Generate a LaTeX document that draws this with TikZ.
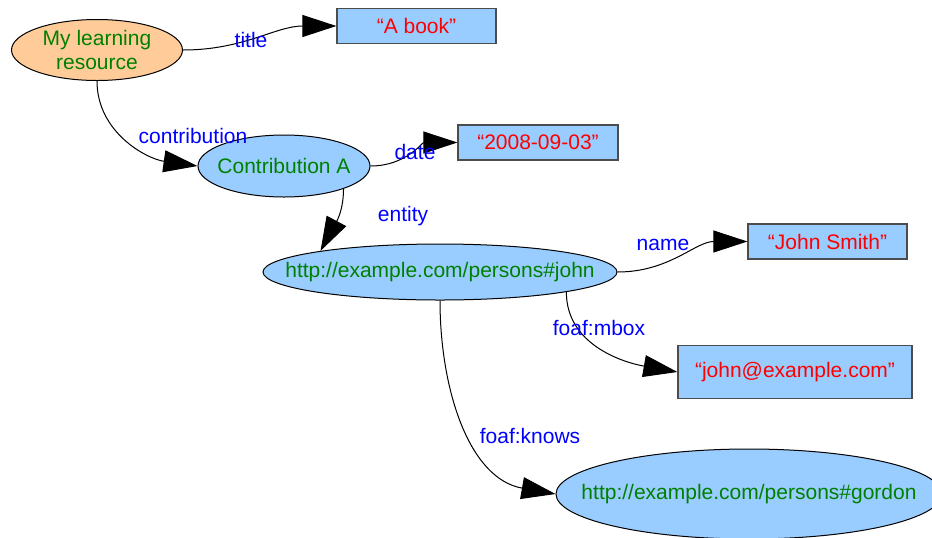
\documentclass[tikz,border=0pt]{standalone}
\usepackage{fontspec}
\setmainfont{Liberation Sans}
\usetikzlibrary{shapes.geometric,arrows.meta}
\definecolor{skyfill}{HTML}{99CCFF}
\definecolor{peach}{HTML}{FFCC99}
\definecolor{uritext}{HTML}{008000}
\definecolor{littext}{HTML}{FF0000}
\definecolor{proptext}{HTML}{0000FF}
\tikzset{
  resnode/.style={ellipse, draw, line width=0.5pt, fill=skyfill, text=uritext, inner xsep=-20pt, inner ysep=0pt},
  litnode/.style={rectangle, draw=black!70, line width=0.6pt, fill=skyfill, text=littext, inner sep=0pt},
  prop/.style={text=proptext, inner sep=0pt},
  rel/.style={line width=0.5pt, -{Triangle[length=17pt,width=11pt]}}
}
\begin{document}
\begin{tikzpicture}[x=0.5pt,y=-0.5pt,font=\fontsize{10.5}{12}\selectfont]
\useasboundingbox (0,0) rectangle (932,537);
\clip (0,0) rectangle (932,537);
% resources
\node [resnode, fill=peach, minimum width=85.5pt, minimum height=30.5pt, align=center] (lr) at (97,50) {My learning\\resource};
\node [resnode, minimum width=86pt, minimum height=31pt] (contrib) at (284,166) {Contribution A};
\node [resnode, minimum width=177pt, minimum height=28pt] (john) at (440,272) {http://example.com/persons\#john};
\node [resnode, minimum width=193pt, minimum height=45pt] (gordon) at (749,494) {http://example.com/persons\#gordon};
% literals
\node [litnode, minimum width=79.5pt, minimum height=17.5pt] (book) at (416.5,26) {“A book”};
\node [litnode, minimum width=80pt, minimum height=17.5pt] (date) at (538,142.5) {“2008-09-03”};
\node [litnode, minimum width=79.5pt, minimum height=17.5pt] (jname) at (827.5,241.5) {“John Smith”};
\node [litnode, minimum width=117pt, minimum height=26.5pt] (mbox) at (795,372) {“john@example.com”};
% properties
\draw [rel] (lr.east) to[out=0,in=180] (book.west);
\node [prop] (ptitle) at (251,40) {title};
\draw [rel] (lr.south) to[out=-90,in=172] (contrib.west);
\node [prop] (pcontrib) at (193,136) {contribution};
\draw [rel] (contrib.east) to[out=0,in=180] (date.west);
\node [prop] (pdate) at (415,152) {date};
\draw [rel] (contrib.-21) to[out=-90,in=62] (john.170);
\node [prop] (pentity) at (403,216) {entity};
\draw [rel] (john.east) to[out=0,in=180] (jname.west);
\node [prop] (pname) at (663,245) {name};
\draw [rel] (john.-9.5) to[out=-90,in=170] (mbox.west);
\node [prop] (pmbox) at (599,328) {foaf:mbox};
\draw [rel] (john.south) to[out=-90,in=170] (gordon.west);
\node [prop] (pknows) at (530,436) {foaf:knows};
\end{tikzpicture}
\end{document}
